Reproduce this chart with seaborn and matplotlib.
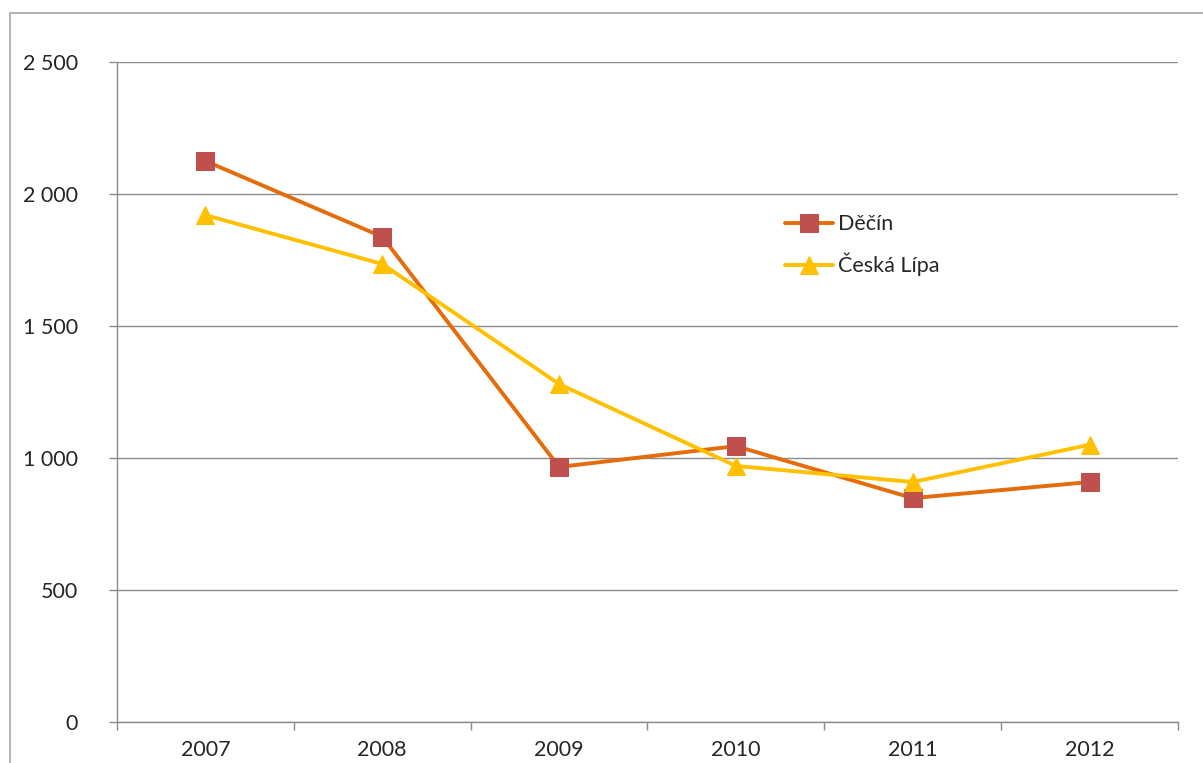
import pandas as pd
import seaborn as sns
from matplotlib import pyplot as plt
from matplotlib.patches import Rectangle
from matplotlib.ticker import FuncFormatter, MultipleLocator, FixedLocator

years = ["2007", "2008", "2009", "2010", "2011", "2012"]
decin = [2125, 1838, 966, 1045, 848, 909]
ceska_lipa = [1920, 1735, 1280, 970, 909, 1050]

sns.set_style("white")
plt.rcParams["font.family"] = ["Lato", "DejaVu Sans"]

df = pd.DataFrame({"x": range(len(years)), "Děčín": decin, "Česká Lípa": ceska_lipa})

fig = plt.figure(figsize=(12.03, 7.63), dpi=100)
ax = fig.add_axes([117 / 1203, 41 / 763, 1061 / 1203, 660 / 763])

# outer chart frame, cut by the image edge
fig.patches.append(Rectangle((10 / 1203, -0.1), 1.2, (750 / 763) + 0.1,
                             transform=fig.transFigure, fill=False,
                             edgecolor="#A6A6A6", linewidth=1.2, zorder=0))

sns.lineplot(data=df, x="x", y="Děčín", ax=ax, color="#E46C0A", linewidth=2.8,
             marker="s", markersize=12.5, markerfacecolor="#C0504D",
             markeredgecolor="#C0504D", label="Děčín", zorder=3)
sns.lineplot(data=df, x="x", y="Česká Lípa", ax=ax, color="#FFC000", linewidth=2.8,
             marker="^", markersize=13, markerfacecolor="#FFC000",
             markeredgecolor="#FFC000", label="Česká Lípa", zorder=3)

ax.set_xlim(-0.5, 5.5)
ax.set_ylim(0, 2500)
ax.yaxis.set_major_locator(MultipleLocator(500))
ax.yaxis.set_major_formatter(FuncFormatter(lambda v, p: f"{int(v):,}".replace(",", " ")))
ax.set_xticks(range(len(years)))
ax.set_xticklabels(years)
ax.xaxis.set_minor_locator(FixedLocator([i - 0.5 for i in range(len(years) + 1)]))

ax.grid(axis="y", color="#8C8C8C", linewidth=1.0)
ax.set_axisbelow(True)
for s in ["top", "right"]:
    ax.spines[s].set_visible(False)
for s in ["left", "bottom"]:
    ax.spines[s].set_color("#8C8C8C")
    ax.spines[s].set_linewidth(1.0)

ax.tick_params(axis="y", which="major", length=6, width=1, color="#8C8C8C",
               labelsize=15.5, pad=22, direction="out", left=True)
ax.tick_params(axis="x", which="major", length=0, labelsize=15.5, pad=13, bottom=True)
ax.tick_params(axis="x", which="minor", length=6, width=1, color="#8C8C8C",
               direction="out", bottom=True)
ax.set_xlabel("")
ax.set_ylabel("")

ax.legend(loc="upper left", bbox_to_anchor=(766 / 1203, 1 - 195 / 763),
          bbox_transform=fig.transFigure, frameon=False, fontsize=15.5,
          handlelength=2.2, handletextpad=0.25, labelspacing=0.85)

plt.savefig("out.png", dpi=100)
